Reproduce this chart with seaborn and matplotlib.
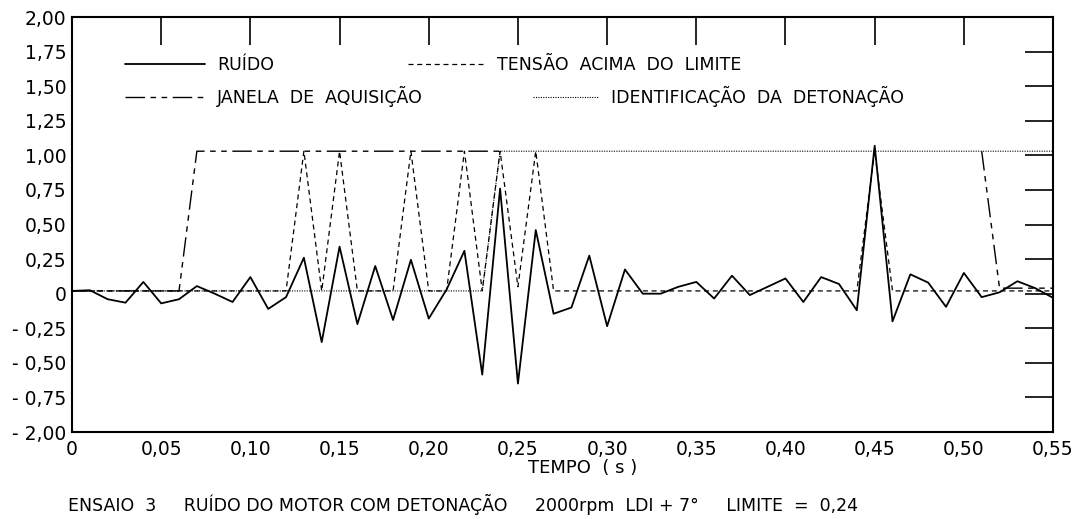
import matplotlib
matplotlib.use("Agg")
import matplotlib.pyplot as plt
import seaborn as sns

# tempo (s), um ponto a cada 0,01 s
tempo = [i / 100 for i in range(56)]

ruido = [0.02, 0.025, -0.04, -0.065, 0.085, -0.07, -0.04, 0.055, 0.0, -0.06,
         0.12, -0.11, -0.025, 0.26, -0.35, 0.34, -0.22, 0.20, -0.19, 0.245,
         -0.18, 0.03, 0.31, -0.585, 0.76, -0.65, 0.46, -0.145, -0.10, 0.275,
         -0.235, 0.175, 0.0, 0.0, 0.05, 0.085, -0.035, 0.13, -0.01, 0.05,
         0.11, -0.06, 0.12, 0.07, -0.12, 1.07, -0.20, 0.14, 0.08, -0.095,
         0.15, -0.025, 0.01, 0.09, 0.04, -0.03]

tensao = [0.02, 0.02, 0.02, 0.02, 0.02, 0.02, 0.02, 0.02, 0.02, 0.02,
          0.02, 0.02, 0.02, 1.03, 0.02, 1.03, 0.02, 0.02, 0.02, 1.03,
          0.02, 0.02, 1.03, 0.02, 1.03, 0.05, 1.03, 0.02, 0.02, 0.02,
          0.02, 0.02, 0.02, 0.02, 0.02, 0.02, 0.02, 0.02, 0.02, 0.02,
          0.02, 0.02, 0.02, 0.02, 0.02, 1.03, 0.02, 0.02, 0.02, 0.02,
          0.02, 0.02, 0.02, 0.02, 0.02, 0.02]

# janela de aquisicao (trecho visivel antes e depois da identificacao)
janela_t1 = [0.00, 0.01, 0.02, 0.03, 0.04, 0.05, 0.06, 0.07, 0.08, 0.09,
             0.10, 0.11, 0.12, 0.13, 0.14, 0.15, 0.16, 0.17, 0.18, 0.19,
             0.20, 0.21, 0.22, 0.23, 0.24]
janela_v1 = [0.02, 0.02, 0.02, 0.02, 0.02, 0.02, 0.02, 1.03, 1.03, 1.03,
             1.03, 1.03, 1.03, 1.03, 1.03, 1.03, 1.03, 1.03, 1.03, 1.03,
             1.03, 1.03, 1.03, 1.03, 1.03]
janela_t2 = [0.51, 0.52, 0.53, 0.54, 0.55]
janela_v2 = [1.03, 0.04, 0.04, 0.04, 0.04]

ident = [0.02] * 24 + [1.03] * 32

x_ticks = [0, 0.05, 0.10, 0.15, 0.20, 0.25, 0.30, 0.35, 0.40, 0.45, 0.50, 0.55]
x_labels = ["0", "0,05", "0,10", "0,15", "0,20", "0,25", "0,30", "0,35",
            "0,40", "0,45", "0,50", "0,55"]
y_ticks = [2.0, 1.75, 1.5, 1.25, 1.0, 0.75, 0.5, 0.25, 0, -0.25, -0.5, -0.75, -1.0]
y_labels = ["2,00", "1,75", "1,50", "1,25", "1,00", "0,75", "0,50", "0,25",
            "0", "- 0,25", "- 0,50", "- 0,75", "- 2,00"]

sns.set_theme(style="white")
plt.rcParams["font.family"] = ["DejaVu Sans"]
for k in ["text.color", "axes.labelcolor", "xtick.color", "ytick.color"]:
    plt.rcParams[k] = "black"

fig = plt.figure(figsize=(10.73, 5.19), dpi=100)
ax = fig.add_axes([0.0671, 0.1676, 0.9143, 0.7996])

sns.lineplot(x=tempo, y=ident, ax=ax, color="black", linewidth=0.8,
             linestyle=(0, (1, 1.2)))
sns.lineplot(x=tempo, y=tensao, ax=ax, color="black", linewidth=0.9,
             linestyle=(0, (4, 3)))
sns.lineplot(x=janela_t1, y=janela_v1, ax=ax, color="black", linewidth=1.0,
             linestyle=(0, (14, 4, 4, 4, 4, 4)))
sns.lineplot(x=janela_t2, y=janela_v2, ax=ax, color="black", linewidth=1.0,
             linestyle=(0, (14, 4, 4, 4, 4, 4)))
sns.lineplot(x=tempo, y=ruido, ax=ax, color="black", linewidth=1.3)

ax.set_xlim(0, 0.55)
ax.set_ylim(-1.0, 2.0)
ax.set_xticks(x_ticks)
ax.set_xticklabels(x_labels, fontsize=13.5)
ax.set_yticks(y_ticks)
ax.set_yticklabels(y_labels, fontsize=13.5)
ax.tick_params(direction="in", length=20, width=1.2, color="black",
               top=True, right=True, labeltop=False, labelright=False, pad=4)
ax.tick_params(axis="x", pad=6)
for s in ax.spines.values():
    s.set_color("black")
    s.set_linewidth(1.5)
ax.set_xlabel("TEMPO  ( s )", fontsize=13, labelpad=2)
ax.xaxis.set_label_coords(0.52, -0.065)
ax.set_ylabel("")

lines = ax.get_lines()
h_ident, h_tensao, h_janela, h_ruido = lines[0], lines[1], lines[2], lines[4]

leg_kw = dict(frameon=False, fontsize=12.5, borderpad=0, borderaxespad=0,
              handletextpad=0.7, labelspacing=0.7, loc="upper left")
leg1 = fig.legend([h_ruido, h_janela], ["RUÍDO", "JANELA  DE  AQUISIÇÃO"],
                  bbox_to_anchor=(125 / 1073, 1 - 56 / 519), handlelength=4.6,
                  **leg_kw)
leg2 = fig.legend([h_tensao], ["TENSÃO  ACIMA  DO  LIMITE"],
                  bbox_to_anchor=(408 / 1073, 1 - 56 / 519), handlelength=4.4,
                  **leg_kw)
leg3 = fig.legend([h_ident], ["IDENTIFICAÇÃO  DA  DETONAÇÃO"],
                  bbox_to_anchor=(533 / 1073, 1 - 86 / 519), handlelength=3.8,
                  **leg_kw)

caption = "ENSAIO  3     RUÍDO DO MOTOR COM DETONAÇÃO     2000rpm  LDI + 7°     LIMITE  =  0,24"
fig.text(68 / 1073, 1 - 511 / 519, caption, fontsize=12.5, va="baseline", ha="left")

fig.savefig("out.png", dpi=100, facecolor="white")
